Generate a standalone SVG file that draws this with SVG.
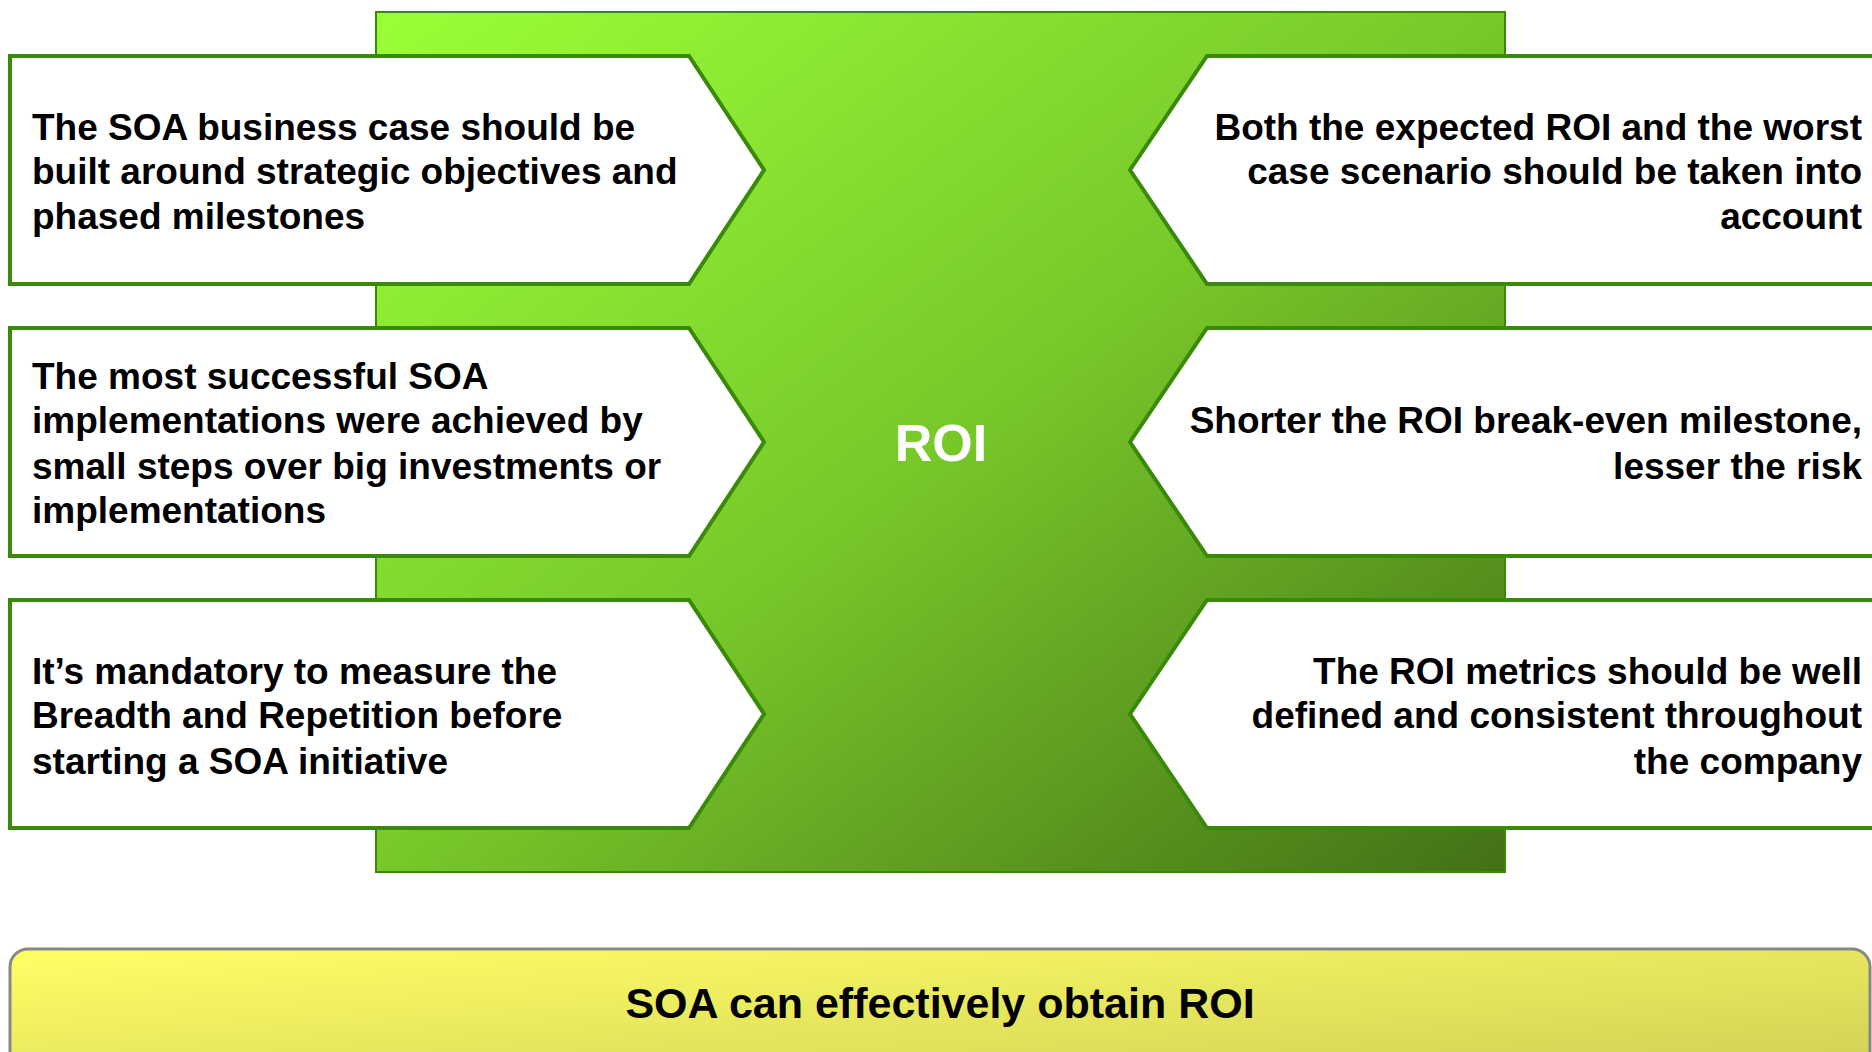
<svg xmlns="http://www.w3.org/2000/svg" width="1872" height="1052" viewBox="0 0 1872 1052">
<defs>
<linearGradient id="gGreen" x1="0" y1="0" x2="1" y2="1">
<stop offset="0" stop-color="#9BFF37"/>
<stop offset="0.5" stop-color="#78C82A"/>
<stop offset="1" stop-color="#437016"/>
</linearGradient>
<linearGradient id="gYellow" x1="0" y1="0" x2="1" y2="1">
<stop offset="0" stop-color="#FFFF66"/>
<stop offset="1" stop-color="#CFCF55"/>
</linearGradient>
<style>
.box{fill:#FFFFFF;stroke:#3A8A0A;stroke-width:4;stroke-linejoin:miter}
.t{font-family:"Liberation Sans",Arial,Helvetica,sans-serif;font-weight:bold;font-size:37px;fill:#000000}
.r{text-anchor:end}
</style>
</defs>
<rect width="1872" height="1052" fill="#FFFFFF"/>
<g id="roi-core">
<rect x="376" y="12" width="1129" height="860" fill="url(#gGreen)" stroke="#3A8A0A" stroke-width="2"/>
<text x="941" y="461" text-anchor="middle" font-family="Liberation Sans,Arial,sans-serif" font-weight="bold" font-size="52" fill="#FFFFFF">ROI</text>
</g>
<g id="connectors"></g>
<g id="left-1">
<polygon class="box" points="10,56 689,56 764,170 689,284 10,284"/>
<text class="t" x="32" y="140">The SOA business case should be</text>
<text class="t" x="32" y="184">built around strategic objectives and</text>
<text class="t" x="32" y="229">phased milestones</text>
</g>
<g id="left-2">
<polygon class="box" points="10,328 689,328 764,442 689,556 10,556"/>
<text class="t" x="32" y="389">The most successful SOA</text>
<text class="t" x="32" y="433">implementations were achieved by</text>
<text class="t" x="32" y="479">small steps over big investments or</text>
<text class="t" x="32" y="523">implementations</text>
</g>
<g id="left-3">
<polygon class="box" points="10,600 689,600 764,714 689,828 10,828"/>
<text class="t" x="32" y="684">It’s mandatory to measure the</text>
<text class="t" x="32" y="728">Breadth and Repetition before</text>
<text class="t" x="32" y="774">starting a SOA initiative</text>
</g>
<g id="right-1">
<polygon class="box" points="1885,56 1207,56 1130,170 1207,284 1885,284"/>
<text class="t r" x="1862" y="140">Both the expected ROI and the worst</text>
<text class="t r" x="1862" y="184">case scenario should be taken into</text>
<text class="t r" x="1862" y="229">account</text>
</g>
<g id="right-2">
<polygon class="box" points="1885,328 1207,328 1130,442 1207,556 1885,556"/>
<text class="t r" x="1862" y="433">Shorter the ROI break-even milestone,</text>
<text class="t r" x="1862" y="479">lesser the risk</text>
</g>
<g id="right-3">
<polygon class="box" points="1885,600 1207,600 1130,714 1207,828 1885,828"/>
<text class="t r" x="1862" y="684">The ROI metrics should be well</text>
<text class="t r" x="1862" y="728">defined and consistent throughout</text>
<text class="t r" x="1862" y="774">the company</text>
</g>
<g id="conclusion">
<rect x="10" y="949" width="1860" height="130" rx="18" ry="18" fill="url(#gYellow)" stroke="#888888" stroke-width="3"/>
<text x="940" y="1018" text-anchor="middle" font-family="Liberation Sans,Arial,sans-serif" font-weight="bold" font-size="43" fill="#000000">SOA can effectively obtain ROI</text>
</g>
</svg>
